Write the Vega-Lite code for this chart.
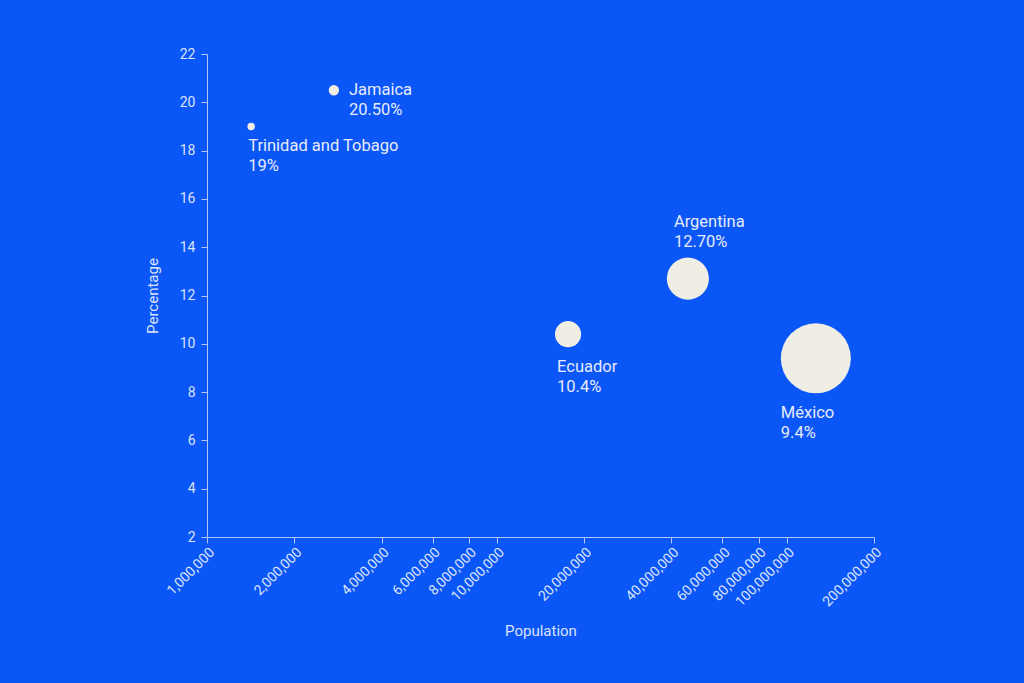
{
  "$schema": "https://vega.github.io/schema/vega-lite/v6.json",
  "width": 667,
  "height": 483,
  "autosize": {"type": "none"},
  "padding": {"left": 207, "top": 54, "right": 150, "bottom": 146},
  "background": "#0a56f6",
  "config": {
    "view": {"stroke": null},
    "font": "Roboto",
    "axis": {
      "grid": false,
      "domainColor": "#b4c6f6",
      "tickColor": "#b4c6f6",
      "labelColor": "#dbe3fb",
      "titleColor": "#dbe3fb",
      "labelFont": "Roboto",
      "titleFont": "Roboto",
      "labelFontSize": 14,
      "titleFontSize": 15,
      "titleFontWeight": "normal",
      "tickSize": 6
    },
    "text": {"lineBreak": "\n"}
  },
  "data": {
    "values": [
      {"country": "Trinidad and Tobago", "population": 1420000, "pct": 19.0, "label": "Trinidad and Tobago\n19%"},
      {"country": "Jamaica", "population": 2740000, "pct": 20.5, "label": "Jamaica\n20.50%"},
      {"country": "Ecuador", "population": 17600000, "pct": 10.4, "label": "Ecuador\n10.4%"},
      {"country": "Argentina", "population": 45600000, "pct": 12.7, "label": "Argentina\n12.70%"},
      {"country": "México", "population": 126000000, "pct": 9.4, "label": "México\n9.4%"}
    ]
  },
  "encoding": {
    "x": {
      "field": "population", "type": "quantitative",
      "scale": {"type": "log", "domain": [1000000, 200000000], "nice": false},
      "axis": {
        "title": "Population",
        "values": [1000000, 2000000, 4000000, 6000000, 8000000, 10000000, 20000000, 40000000, 60000000, 80000000, 100000000, 200000000],
        "format": ",d",
        "labelAngle": -45,
        "labelAlign": "right",
        "labelBaseline": "top",
        "labelOverlap": false,
        "titleY": 93,
        "titleBaseline": "middle"
      }
    },
    "y": {
      "field": "pct", "type": "quantitative",
      "scale": {"domain": [2, 22], "nice": false, "zero": false},
      "axis": {
        "title": "Percentage",
        "values": [2, 4, 6, 8, 10, 12, 14, 16, 18, 20, 22],
        "labelPadding": 6,
        "titleX": -55,
        "titleBaseline": "middle"
      }
    }
  },
  "layer": [
    {
      "mark": {"type": "circle", "color": "#f0eee4", "opacity": 1},
      "encoding": {
        "size": {"field": "population", "type": "quantitative", "legend": null,
          "scale": {"type": "linear", "domain": [0, 126000000], "range": [0, 4900]}}
      }
    },
    {
      "transform": [{"filter": "datum.country === 'Trinidad and Tobago'"}],
      "mark": {"type": "text", "align": "left", "baseline": "top", "dx": -3, "dy": 12, "fontSize": 16.5, "lineHeight": 20, "color": "#e6ebfb"},
      "encoding": {"text": {"field": "label"}}
    },
    {
      "transform": [{"filter": "datum.country === 'Jamaica'"}],
      "mark": {"type": "text", "align": "left", "baseline": "top", "dx": 15, "dy": -8, "fontSize": 16.5, "lineHeight": 20, "color": "#e6ebfb"},
      "encoding": {"text": {"field": "label"}}
    },
    {
      "transform": [{"filter": "datum.country === 'Ecuador'"}],
      "mark": {"type": "text", "align": "left", "baseline": "top", "dx": -11, "dy": 25, "fontSize": 16.5, "lineHeight": 20, "color": "#e6ebfb"},
      "encoding": {"text": {"field": "label"}}
    },
    {
      "transform": [{"filter": "datum.country === 'Argentina'"}],
      "mark": {"type": "text", "align": "left", "baseline": "top", "dx": -14, "dy": -65, "fontSize": 16.5, "lineHeight": 20, "color": "#e6ebfb"},
      "encoding": {"text": {"field": "label"}}
    },
    {
      "transform": [{"filter": "datum.country === 'México'"}],
      "mark": {"type": "text", "align": "left", "baseline": "top", "dx": -35, "dy": 47, "fontSize": 16.5, "lineHeight": 20, "color": "#e6ebfb"},
      "encoding": {"text": {"field": "label"}}
    }
  ]
}
